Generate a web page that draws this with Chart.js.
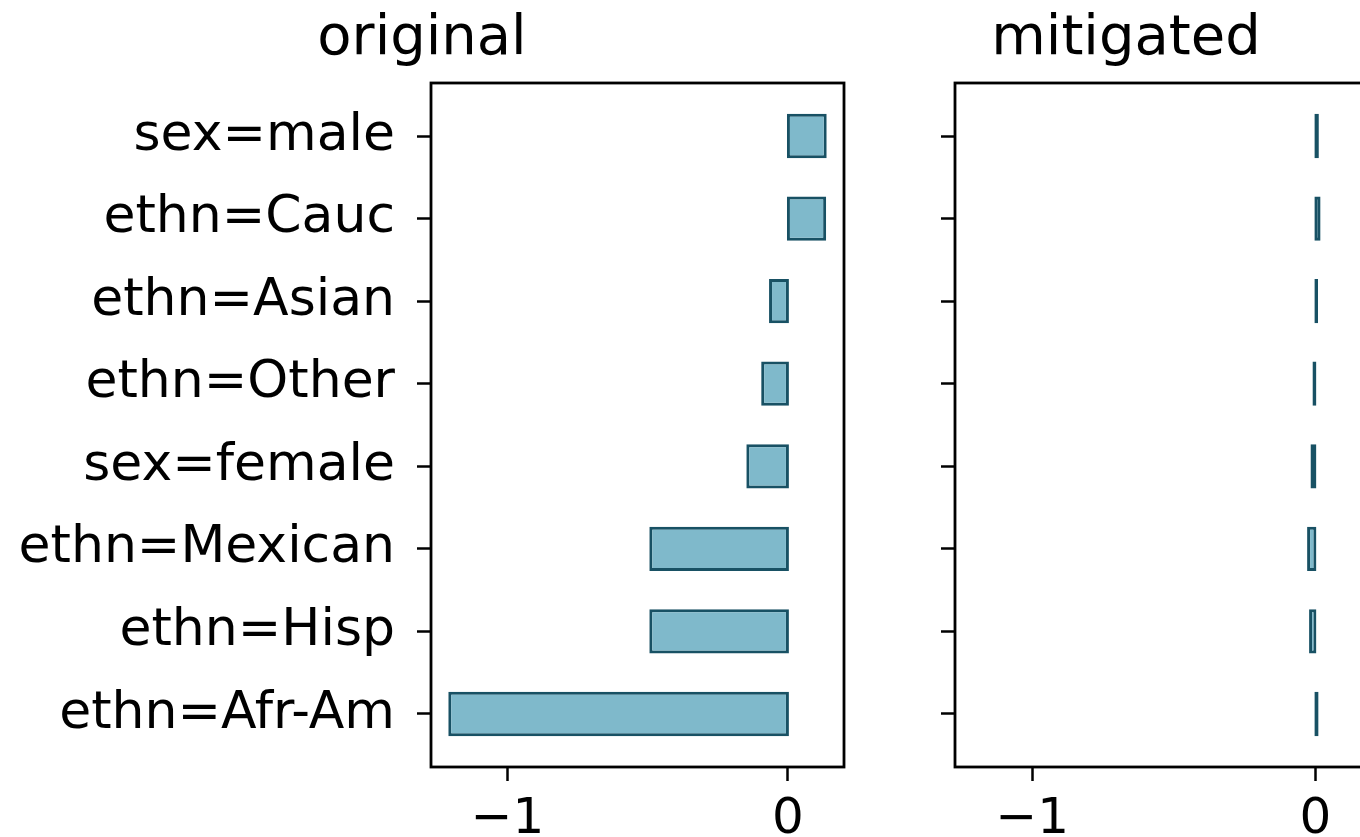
<!DOCTYPE html>
<html>
<head>
<meta charset="utf-8">
<script src="https://cdn.jsdelivr.net/npm/chart.js@4.4.1/dist/chart.umd.min.js"></script>
<style>
  html, body { margin: 0; padding: 0; background: #fff; }
  body { width: 1360px; height: 837px; overflow: hidden; position: relative; }
  canvas { position: absolute; top: 0; }
  #originalChart { left: 0; }
  #mitigatedChart { left: 880px; }
</style>
</head>
<body>
<canvas id="originalChart" width="880" height="837"></canvas>
<canvas id="mitigatedChart" width="526" height="837"></canvas>
<script>
// data
const categories = ['sex=male', 'ethn=Cauc', 'ethn=Asian', 'ethn=Other', 'sex=female', 'ethn=Mexican', 'ethn=Hisp', 'ethn=Afr-Am'];
const originalValues = [0.133, 0.131, -0.062, -0.090, -0.143, -0.489, -0.489, -1.206];
const mitigatedValues = [0.007, 0.013, 0.004, -0.005, -0.012, -0.024, -0.017, 0.006];
const xTicks = [-1, 0];

const FONT = 'DejaVu Sans';
const fillColor = '#7fb9cb';
const edgeColor = '#185164';
const edgeWidth = 3;

// frame round the plot area (matplotlib style spines)
const boxPlugin = {
  id: 'box',
  afterDraw(chart) {
    const { ctx, chartArea: a } = chart;
    ctx.save();
    ctx.strokeStyle = '#000';
    ctx.lineWidth = 2.8;
    ctx.strokeRect(a.left, a.top, a.right - a.left, a.bottom - a.top);
    ctx.restore();
  }
};

// matplotlib draws the edge centred on the bar outline, Chart.js inside it
const centredEdges = {
  id: 'centredEdges',
  afterDatasetUpdate(chart, args) {
    args.meta.data.forEach(el => {
      const dir = el.x >= el.base ? 1 : -1;
      el.x += dir * edgeWidth / 2;
      el.base -= dir * edgeWidth / 2;
      el.height += edgeWidth;
    });
  }
};

function makePanel(id, title, values, showLabels, axisWidth, rightPad) {
  return new Chart(document.getElementById(id), {
    type: 'bar',
    data: {
      datasets: [{
        data: values.map((v, i) => ({ x: v, y: i })),
        backgroundColor: fillColor,
        borderColor: edgeColor,
        borderWidth: edgeWidth,
        borderSkipped: false,
        barPercentage: 0.5,
        categoryPercentage: 1
      }]
    },
    options: {
      indexAxis: 'y',
      responsive: false,
      animation: false,
      layout: { padding: { left: 0, right: rightPad, top: 0, bottom: 0 } },
      plugins: {
        legend: { display: false },
        tooltip: { enabled: false },
        title: {
          display: true,
          text: title,
          color: '#000',
          font: { family: FONT, size: 56, weight: 'normal', lineHeight: 1 },
          padding: { top: 11, bottom: 16 }
        }
      },
      scales: {
        x: {
          type: 'linear',
          min: -1.273,
          max: 0.2,
          afterBuildTicks: axis => { axis.ticks = xTicks.map(v => ({ value: v })); },
          afterFit: scale => { scale.height = 70; },
          grid: { drawOnChartArea: false, drawTicks: true, tickLength: 14, tickWidth: 2.5, tickColor: '#000' },
          border: { display: false },
          ticks: {
            color: '#000',
            padding: 9,
            maxRotation: 0,
            font: { family: FONT, size: 50 },
            callback: v => (v < 0 ? '\u2212' + Math.abs(v) : String(v))
          }
        },
        y: {
          type: 'linear',
          reverse: true,
          offset: false,
          min: -0.642,
          max: 7.642,
          afterBuildTicks: axis => { axis.ticks = categories.map((c, i) => ({ value: i })); },
          afterFit: scale => { scale.width = axisWidth; },
          grid: { offset: false, drawOnChartArea: false, drawTicks: true, tickLength: 14, tickWidth: 2.5, tickColor: '#000' },
          border: { display: false },
          ticks: {
            display: true,
            autoSkip: false,
            color: '#000',
            padding: 22,
            font: { family: FONT, size: 52 },
            callback: v => (showLabels ? categories[v] : '')
          }
        }
      }
    },
    plugins: [boxPlugin, centredEdges]
  });
}

makePanel('originalChart', 'original', originalValues, true, 431, 36);
makePanel('mitigatedChart', 'mitigated', mitigatedValues, false, 75, 34);
</script>
</body>
</html>
